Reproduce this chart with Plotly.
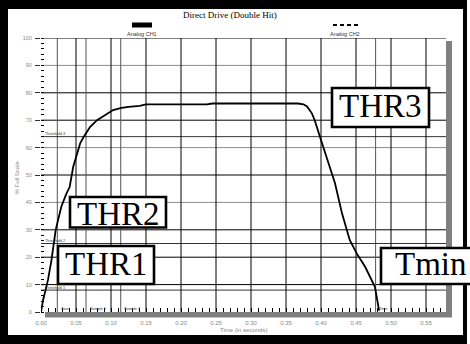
import plotly.graph_objects as go

# ---- data -------------------------------------------------------------
# Analog CH1 response: time (s) vs % of full scale
time_s = [0.000, 0.003, 0.010, 0.015, 0.021, 0.029, 0.036, 0.041, 0.046, 0.052,
          0.056, 0.060, 0.064, 0.070, 0.080, 0.091, 0.103, 0.115, 0.125, 0.141,
          0.150, 0.237, 0.245, 0.300, 0.367, 0.375, 0.380, 0.387, 0.391, 0.400,
          0.410, 0.420, 0.430, 0.441, 0.451, 0.463, 0.477, 0.483]
ch1_pct = [0.0, 4.4, 11.7, 19.0, 30.0, 38.4, 43.0, 45.7, 53.0, 58.5,
           61.6, 63.5, 65.2, 67.5, 70.0, 71.9, 73.7, 74.5, 74.9, 75.2,
           75.8, 75.8, 76.1, 76.1, 76.1, 75.8, 75.0, 72.5, 70.0, 62.8,
           55.0, 47.0, 36.0, 26.3, 21.4, 16.5, 9.2, 0.5]

x_ticks = [0.00, 0.05, 0.10, 0.15, 0.20, 0.25, 0.30, 0.35, 0.40, 0.45, 0.50, 0.55]
x_tick_text = ["0.00", "0.05", "0.10", "0.15", "0.20", "0.25", "0.30",
               "0.35", "0.40", "0.45", "0.50", "0.55"]
y_ticks = [0, 10, 20, 30, 40, 50, 60, 70, 80, 90, 100]
y_grid = [10, 20, 30, 40, 50, 60, 70, 80, 90, 100]
y_grid_light = [40, 60, 90]
t_grid = [0.05, 0.10, 0.15, 0.20, 0.25, 0.30, 0.35, 0.40, 0.45, 0.50, 0.55]

event_t = [0.0233, 0.0643, 0.1139, 0.478]
event_names = ["Start", "Sample 1", "Sample 2", "Tmin"]

threshold_pct = [8, 25, 64]
threshold_names = ["Threshold 1", "Threshold 2", "Threshold 3"]

callout_names = ["THR1", "THR2", "THR3", "Tmin"]

# ---- canvas geometry (pixels) -----------------------------------------
W, H = 470, 344
L, R, T, B = 41, 446, 38, 312
X_MAX = 0.05 * (R - L) / 35.0


def fx(px):
    return (px - L) / (R - L)


def fy(py):
    return (B - py) / (B - T)


def prect(x0, y0, x1, y1, **kw):
    return dict(type="rect", xref="paper", yref="paper",
                x0=fx(x0), x1=fx(x1), y0=fy(y1), y1=fy(y0), **kw)


def ptext(text, px, py, size, family, color="black", xanchor="center", **kw):
    return dict(text=text, xref="paper", yref="paper", x=fx(px), y=fy(py),
                xanchor=xanchor, yanchor="middle", showarrow=False,
                font=dict(family=family, size=size, color=color), **kw)


SANS = "Liberation Sans, Arial, sans-serif"
SERIF = "Liberation Serif, Times New Roman, serif"
GREY_TXT = "#8a8a8a"

fig = go.Figure()
fig.add_trace(go.Scatter(x=time_s, y=ch1_pct, mode="lines",
                         line=dict(color="black", width=1.8),
                         showlegend=False, hoverinfo="skip"))

shapes = []
# outer frame, inner panel, drop shadow and plotting area
shapes.append(prect(0, 0, 467, H, fillcolor="black", line_width=0, layer="below"))
shapes.append(prect(8, 9, 463, 335, fillcolor="white", line_width=0, layer="below"))
shapes.append(prect(45, 41, 452, 317.5, fillcolor="#808080", line_width=0, layer="below"))
shapes.append(prect(L, T, R, B, fillcolor="white", line_width=0, layer="below"))

# grid
for v in y_grid:
    col = "#8c8c8c" if v in y_grid_light else "black"
    shapes.append(dict(type="line", xref="x", yref="y", x0=0, x1=X_MAX, y0=v, y1=v,
                       line=dict(color=col, width=1), layer="below"))
for t in t_grid:
    shapes.append(dict(type="line", xref="x", yref="y", x0=t, x1=t, y0=0, y1=100,
                       line=dict(color="black", width=1), layer="below"))
for t in event_t:
    shapes.append(dict(type="line", xref="x", yref="y", x0=t, x1=t, y0=0, y1=100,
                       line=dict(color="#555555", width=1), layer="below"))
for v in threshold_pct:
    shapes.append(dict(type="line", xref="x", yref="y", x0=0, x1=X_MAX, y0=v, y1=v,
                       line=dict(color="black", width=0.8), layer="below"))

# legend glyphs
shapes.append(dict(type="line", xref="paper", yref="paper",
                   x0=fx(132), x1=fx(152), y0=fy(25), y1=fy(25),
                   line=dict(color="black", width=5)))
shapes.append(dict(type="line", xref="paper", yref="paper",
                   x0=fx(333), x1=fx(358), y0=fy(25), y1=fy(25),
                   line=dict(color="black", width=1.8, dash="4px,3px")))

# callout boxes (pixel rects) and their text centres
callout_boxes = [(58, 246, 154, 284), (70, 197, 166, 227.5),
                 (332, 88, 429, 127), (381, 248, 474, 284)]
callout_text_pos = [(106, 264), (118, 214), (380.5, 106), (431, 264)]
for (x0, y0, x1, y1) in callout_boxes:
    shapes.append(prect(x0, y0, x1, y1, fillcolor="white",
                        line=dict(color="black", width=2.6), layer="above"))

ann = []
ann.append(ptext("Direct Drive (Double Hit)", 230, 15.5, 9, SERIF))
ann.append(ptext("Analog CH1", 141.5, 34, 5.5, SANS, "#333"))
ann.append(ptext("Analog CH2", 345, 34, 5.5, SANS, "#333"))
ann.append(ptext("Time (in seconds)", 243, 329.5, 6, SANS, GREY_TXT))
ann.append(ptext("% Full Scale", 16.5, 178, 6, SANS, GREY_TXT, textangle=-90))
for name, v in zip(threshold_names, threshold_pct):
    ann.append(dict(text=name, xref="paper", yref="y", x=fx(43), y=v, yshift=2.5,
                    xanchor="left", yanchor="middle", showarrow=False,
                    font=dict(family=SANS, size=3.8, color="#333")))
for name, t in zip(event_names, event_t):
    ann.append(dict(text=name, xref="x", yref="paper", x=t, xshift=1.5, y=fy(308.5),
                    xanchor="left", yanchor="middle", showarrow=False,
                    font=dict(family=SANS, size=3.8, color="#333")))
for name, (cx, cy) in zip(callout_names, callout_text_pos):
    ann.append(ptext(name, cx, cy, 33, SERIF))

fig.update_layout(
    width=W, height=H,
    margin=dict(l=L, r=W - R, t=T, b=H - B, pad=0),
    paper_bgcolor="white", plot_bgcolor="white",
    showlegend=False,
    shapes=shapes, annotations=ann,
    xaxis=dict(range=[0, X_MAX], showgrid=False, zeroline=False, showline=False,
               tickmode="array", tickvals=x_ticks, ticktext=x_tick_text,
               ticks="inside", ticklen=4, tickwidth=1, tickcolor="black",
               ticklabelstandoff=6,
               tickfont=dict(family=SANS, size=6, color=GREY_TXT),
               minor=dict(dtick=0.01, tick0=0, ticks="inside", ticklen=4,
                          tickcolor="black", tickwidth=1, showgrid=False)),
    yaxis=dict(range=[0, 100], showgrid=False, zeroline=False, showline=False,
               tickmode="array", tickvals=y_ticks,
               ticks="outside", ticklen=5, tickwidth=1, tickcolor="#333",
               ticklabelstandoff=2,
               tickfont=dict(family=SANS, size=5.5, color=GREY_TXT),
               minor=dict(dtick=2, tick0=0, ticks="inside", ticklen=3,
                          tickcolor="black", tickwidth=1, showgrid=False)),
)

fig.write_html("out.html")
